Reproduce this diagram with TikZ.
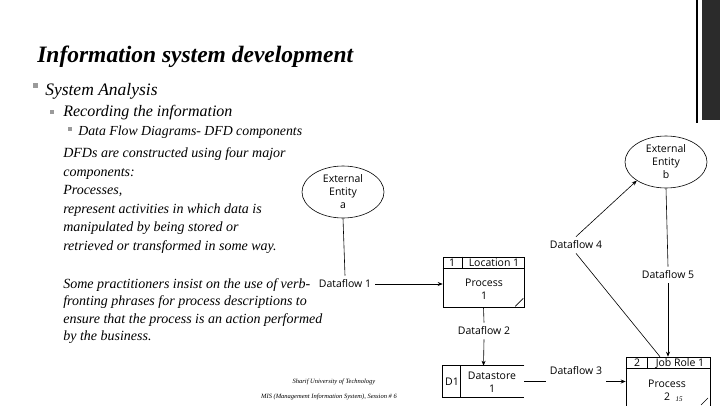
\documentclass[tikz,border=0pt]{standalone}
\usepackage{fontspec}
\setmainfont{Liberation Serif}
\newfontfamily\dfdfont{Open Sans}
\usetikzlibrary{arrows.meta, positioning, calc, shapes.geometric}
\definecolor{mBar}{HTML}{2B2B2B}
\definecolor{mBullet}{HTML}{9A9A9A}

\begin{document}
\begin{tikzpicture}[x=1pt, y=-1pt, line width=0.6pt,
    dfd/.style={font=\dfdfont\fontsize{10.5}{13}\selectfont, inner sep=1pt, align=center},
    flow/.style={dfd, inner sep=4pt},
    entity/.style={ellipse, draw, dfd, minimum width=82pt, minimum height=52pt, inner sep=0pt},
    sq/.style={fill=mBullet, inner sep=0pt, minimum size=#1},
    txt/.style={anchor=base west, inner sep=0pt, font=\itshape\fontsize{#1}{#1}\selectfont},
    arr/.style={-{Stealth[length=5pt, width=4pt]}}]
  \useasboundingbox (0,0) rectangle (720,405);
  \clip (0,0) rectangle (720,405);

  \fill[mBar] (702,0) rectangle (720,120);
  \draw[line width=2pt] (697,0) -- (697,123);

  \node[anchor=base west, inner sep=0pt, font=\bfseries\itshape\fontsize{23.5}{28}\selectfont] (title) at (37,62) {Information system development};

  \node[sq=5pt] (bul1) at (35,85) {};
  \node[txt=17.5] (lvl1) at (45,95) {System Analysis};
  \node[sq=4.5pt] (bul2) at (52,112) {};
  \node[txt=16] (lvl2) at (63,116) {Recording the information};
  \node[sq=4pt] (bul3) at (70,129) {};
  \node[txt=13.8] (lvl3) at (78,135) {Data Flow Diagrams- DFD components};

  \foreach \t [count=\i] in {DFDs are constructed using four major, components:, {Processes,}, represent activities in which data is, manipulated by being stored or, retrieved or transformed in some way.} {
    \node[txt=14] (para\i) at (63,139+\i*18.5) {\t};
  }
  \foreach \t [count=\i] in {Some practitioners insist on the use of verb-, fronting phrases for process descriptions to, ensure that the process is an action performed, by the business.} {
    \node[txt=14] (note\i) at (63,270.5+\i*17.5) {\t};
  }

  \node[entity] (ea) at (343,192) {External\\Entity\\a};
  \node[entity] (eb) at (666,162) {External\\Entity\\b};

  \node[draw, minimum width=81pt, minimum height=50pt, inner sep=0pt] (p1) at (483.5,282) {};
  \draw ($(p1.north west)+(0,12)$) -- ($(p1.north east)+(0,12)$);
  \draw ($(p1.north west)+(20,0)$) -- ($(p1.north west)+(20,12)$);
  \draw ($(p1.south east)+(-9,-1)$) -- ($(p1.south east)+(-1,-9)$);
  \node[dfd] (p1id) at (452,263) {1};
  \node[dfd] (p1loc) at (494,263) {Location 1};
  \node[dfd] (p1name) at (484,289) {Process\\1};

  \node[minimum width=81pt, minimum height=31pt, inner sep=0pt] (ds1) at (483.5,381.5) {};
  \draw (ds1.north east) -- (ds1.north west) -- (ds1.south west) -- (ds1.south east);
  \draw ($(ds1.north west)+(18,0)$) -- ($(ds1.south west)+(18,0)$);
  \node[dfd] (ds1id) at (452,382) {D1};
  \node[dfd] (ds1name) at (492,382) {Datastore\\1};

  \node[draw, minimum width=84pt, minimum height=66pt, inner sep=0pt] (p2) at (668,390) {};
  \draw ($(p2.north west)+(0,12)$) -- ($(p2.north east)+(0,12)$);
  \draw ($(p2.north west)+(22,0)$) -- ($(p2.north west)+(22,12)$);
  \draw (701,405) -- (708,398);
  \node[dfd] (p2id) at (637,363) {2};
  \node[dfd] (p2role) at (680,363) {Job Role 1};
  \node[dfd] (p2name) at (667,390) {Process\\2};
  \node[inner sep=0pt, font=\itshape\fontsize{7}{8}\selectfont] (pagenum) at (679,399) {15};

  \node[flow] (df1) at (345,284) {Dataflow 1};
  \node[flow] (df2) at (484,331) {Dataflow 2};
  \node[flow] (df3) at (576,371) {Dataflow 3};
  \node[flow] (df4) at (576,245) {Dataflow 4};
  \node[flow] (df5) at (668,275) {Dataflow 5};

  \draw (ea.south) -- (df1.north);
  \draw[arr] (df1.east) -- (df1.east -| p1.west);
  \draw (p1.south) -- (df2.north);
  \draw[arr] (df2.south) -- (ds1.north);
  \draw (ds1.east) -- (ds1.east -| df3.west);
  \draw[arr] (ds1.east -| df3.east) -- (ds1.east -| p2.west);
  \draw ($(p2.north)+(-8,0)$) -- (df4.south);
  \draw[arr] (df4.north) -- (eb.south west);
  \draw (eb.south) -- (df5.north);
  \draw[arr] (df5.south) -- (p2.north);

  \node[inner sep=0pt, font=\itshape\fontsize{6.5}{8}\selectfont] (foot1) at (334,382) {Sharif University of Technology};
  \node[inner sep=0pt, font=\itshape\fontsize{6.5}{8}\selectfont] (foot2) at (329,397) {MIS (Management Information System), Session \# 6};
\end{tikzpicture}
\end{document}
